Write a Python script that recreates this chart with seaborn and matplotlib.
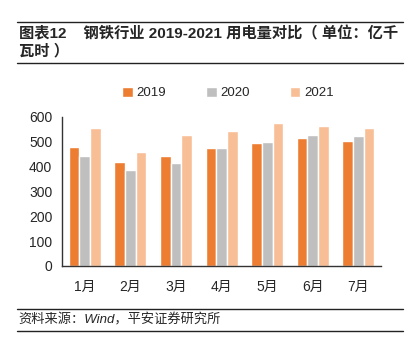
import matplotlib
matplotlib.use("Agg")
import matplotlib.pyplot as plt
import seaborn as sns
import pandas as pd

months = ["1月", "2月", "3月", "4月", "5月", "6月", "7月"]
years = ["2019", "2020", "2021"]
v2019 = [478, 420, 444, 474, 494, 513, 502]
v2020 = [444, 386, 416, 474, 499, 527, 523]
v2021 = [557, 460, 527, 542, 577, 563, 557]
colors = ["#ED7D31", "#BFBFBF", "#F8BF96"]
yticks = [0, 100, 200, 300, 400, 500, 600]

df = pd.DataFrame({
    "month": months * 3,
    "year": [y for y in years for _ in months],
    "value": v2019 + v2020 + v2021,
})

sns.set_theme(style="white")
plt.rcParams["font.family"] = ["Liberation Sans", "Noto Sans CJK SC", "DejaVu Sans"]

fig = plt.figure(figsize=(4.13, 3.54), dpi=100)
ax = fig.add_axes([0.150, 0.249, 0.773, 0.421])
sns.barplot(data=df, x="month", y="value", hue="year", palette=colors,
            width=0.7, gap=0, ax=ax, saturation=1)
ax.set_ylim(0, 600)
ax.set_yticks(yticks)
ax.set_xlim(-0.5, 6.5)
ax.set_xlabel("")
ax.set_ylabel("")
ax.set_xticks([i - 0.5 for i in range(8)], minor=False)
ax.set_xticklabels([])
ax.set_xticks(range(7), minor=True)
ax.set_xticklabels(months, minor=True, fontsize=10, family=["Liberation Sans", "Noto Sans CJK SC"])
ax.tick_params(axis="x", which="major", length=4, width=1, color="#333333", direction="out")
ax.tick_params(axis="x", which="minor", length=0, pad=10)
ax.tick_params(axis="y", length=4, width=1, color="#333333", direction="out", labelsize=10, pad=3)
for s in ["top", "right"]:
    ax.spines[s].set_visible(False)
for s in ["left", "bottom"]:
    ax.spines[s].set_color("#333333")
    ax.spines[s].set_linewidth(1)

leg = ax.legend(loc="center", bbox_to_anchor=(0.52, 1.16), ncol=3, frameon=False,
                fontsize=9.5, handlelength=0.8, handleheight=0.8, handletextpad=0.3,
                columnspacing=3.0)

# title rules and text
fig.add_artist(plt.Line2D([0.04, 0.975], [1 - 22 / 354] * 2, color="#222222", lw=1))
fig.add_artist(plt.Line2D([0.04, 0.975], [1 - 63 / 354] * 2, color="#222222", lw=1))
fig.text(0.045, 1 - 33.5 / 354, "图表12    钢铁行业 2019-2021 用电量对比（ 单位：亿千",
         fontsize=11, fontweight="bold", va="center", ha="left",
         family=["Liberation Sans", "Noto Sans CJK SC"])
fig.text(0.045, 1 - 51 / 354, "瓦时 ）", fontsize=11, fontweight="bold", va="center", ha="left",
         family=["Liberation Sans", "Noto Sans CJK SC"])

fig.add_artist(plt.Line2D([0.04, 0.975], [1 - 309 / 354] * 2, color="#222222", lw=1))
fig.add_artist(plt.Line2D([0.04, 0.975], [1 - 331 / 354] * 2, color="#222222", lw=1))
fig.text(0.045, 1 - 320 / 354, "资料来源：Wind，平安证券研究所", fontsize=9.5, style="italic",
         va="center", ha="left", family=["Liberation Sans", "Noto Sans CJK SC"])

fig.savefig("out.png", dpi=100)
